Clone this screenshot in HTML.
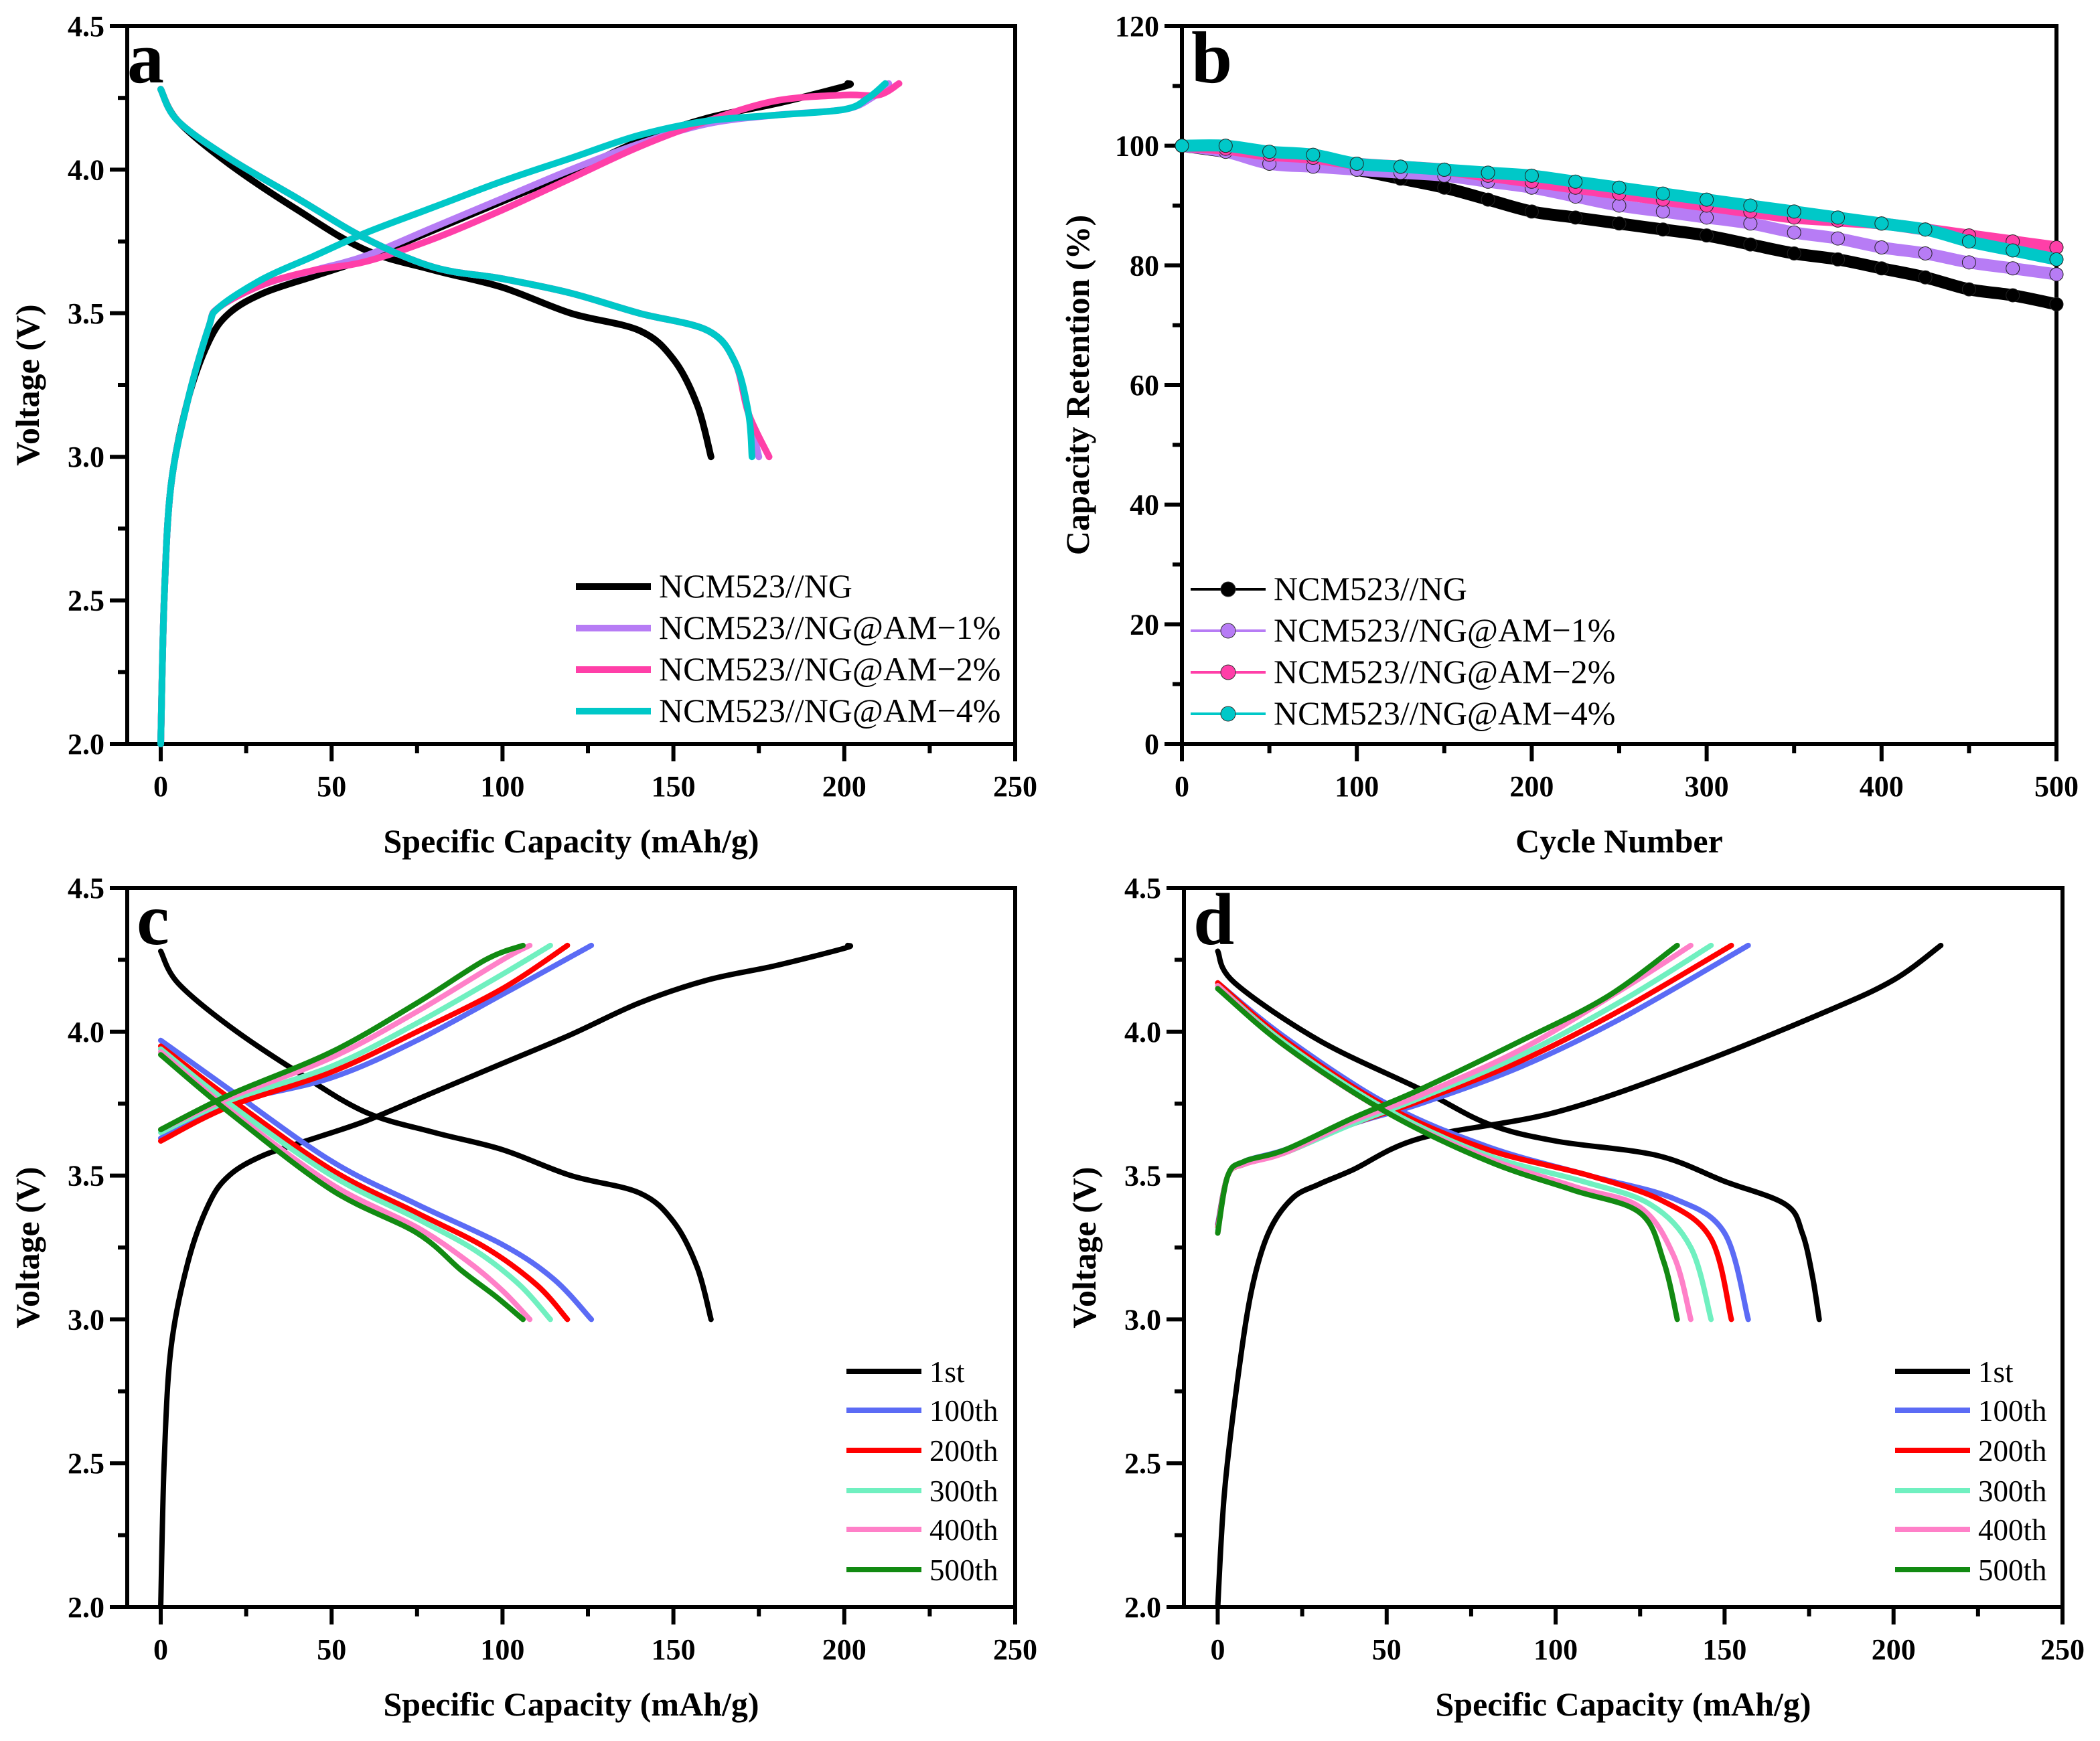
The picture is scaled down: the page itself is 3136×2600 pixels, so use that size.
<!DOCTYPE html>
<html><head><meta charset="utf-8"><style>
html,body{margin:0;padding:0;background:#fff;}
svg{display:block;font-family:"Liberation Serif",serif;}
</style></head><body>
<svg id="fig" width="3136" height="2600" viewBox="0 0 3136 2600" xmlns="http://www.w3.org/2000/svg"></svg>
<script>
// ---------- Panel a data ----------
const aBlkChgX=[0,1,3,8,14,20,30,45,60,80,100,120,140,160,180,200,201];
const aBlkChgY=[2.0,2.5,2.9,3.2,3.4,3.5,3.57,3.63,3.69,3.79,3.89,3.99,4.1,4.18,4.23,4.29,4.3];
const aBlkDisX=[0,5,20,40,60,80,100,120,140,150,157,161];
const aBlkDisY=[4.28,4.17,4.02,3.86,3.72,3.65,3.59,3.5,3.44,3.34,3.18,3.0];
const aPurChgX=[0,1,3,8,14,17,30,45,60,80,100,120,140,160,180,200,208,213];
const aPurChgY=[2.0,2.5,2.9,3.2,3.45,3.52,3.6,3.65,3.7,3.8,3.9,4.0,4.09,4.16,4.19,4.21,4.25,4.3];
const aPinChgX=[0,1,3,8,14,17,30,45,60,80,100,120,140,160,180,200,210,216];
const aPinChgY=[2.0,2.5,2.9,3.2,3.45,3.52,3.6,3.65,3.68,3.76,3.86,3.97,4.08,4.17,4.24,4.26,4.26,4.3];
const aCyaChgX=[0,1,3,8,14,17,30,45,60,80,100,120,140,160,180,200,207,212];
const aCyaChgY=[2.0,2.5,2.9,3.2,3.45,3.52,3.62,3.7,3.78,3.87,3.96,4.04,4.12,4.17,4.19,4.21,4.25,4.3];
const aOthDisX=[0,5,20,40,60,80,100,120,140,160,168,172];
const aPurDisEnd=175, aPinDisEnd=178, aCyaDisEnd=173;
const aOthDisY=[4.28,4.17,4.04,3.9,3.76,3.66,3.62,3.57,3.5,3.44,3.33,3.15];
// ---------- Panel b data ----------
const bCycles=[0,25,50,75,100,125,150,175,200,225,250,275,300,325,350,375,400,425,450,475,500];
const bBlack=[100,99,98,97.5,96,94.5,93,91,89,88,87,86,85,83.5,82,81,79.5,78,76,75,73.5];
const bPurple=[100,99,97,96.5,96,95.5,95,94,93,91.5,90,89,88,87,85.5,84.5,83,82,80.5,79.5,78.5];
const bPink=[100,99.5,98.5,98,97,96.5,96,95,94,93,92,91,90,89,88,87.5,87,86,85,84,83];
const bCyan=[100,100,99,98.5,97,96.5,96,95.5,95,94,93,92,91,90,89,88,87,86,84,82.5,81];
// ---------- Panel c data ----------
const c1ChgX=aBlkChgX, c1ChgY=aBlkChgY, c1DisX=aBlkDisX, c1DisY=aBlkDisY;
const cChgX=[[0,20,50,75,100,126],[0,20,50,75,100,119],[0,20,50,75,100,114],[0,20,50,75,100,108],[0,20,50,75,95,106]];
const cChgY=[[3.63,3.75,3.84,3.97,4.13,4.3],[3.62,3.74,3.86,4.0,4.15,4.3],[3.65,3.76,3.88,4.03,4.2,4.3],[3.66,3.77,3.91,4.07,4.25,4.3],[3.66,3.78,3.93,4.1,4.25,4.3]];
const cDisX=[[0,20,50,75,100,115,126],[0,20,50,75,95,110,119],[0,20,50,75,92,105,114],[0,20,50,75,90,100,108],[0,20,50,75,88,98,106]];
const cDisY=[[3.97,3.8,3.55,3.4,3.26,3.14,3.0],[3.95,3.77,3.52,3.37,3.25,3.12,3.0],[3.94,3.75,3.5,3.35,3.24,3.12,3.0],[3.93,3.73,3.47,3.32,3.2,3.1,3.0],[3.92,3.72,3.45,3.3,3.17,3.08,3.0]];
// ---------- Panel d data ----------
const d1ChgX=[0,2,6,10,15,22,30,40,60,100,140,180,200,214];
const d1ChgY=[2.0,2.4,2.8,3.1,3.3,3.42,3.47,3.52,3.63,3.72,3.88,4.07,4.18,4.3];
const d1DisX=[0,5,30,60,80,100,130,150,168,173,176,178];
const d1DisY=[4.28,4.17,3.97,3.8,3.68,3.62,3.57,3.48,3.4,3.3,3.15,3.0];
const dChgX=[[0,3,8,20,40,60,90,120,157],[0,3,8,20,40,60,90,120,152],[0,3,8,20,40,60,90,120,146],[0,3,8,20,40,60,90,120,140],[0,3,8,20,40,60,90,115,136]];
const dChgY=[[3.33,3.5,3.55,3.59,3.68,3.75,3.88,4.05,4.3],[3.32,3.5,3.54,3.58,3.68,3.76,3.9,4.08,4.3],[3.31,3.5,3.54,3.58,3.68,3.77,3.92,4.11,4.3],[3.3,3.5,3.54,3.58,3.69,3.78,3.94,4.15,4.3],[3.3,3.5,3.55,3.59,3.7,3.8,3.97,4.12,4.3]];
const dDisX=[[0,20,50,80,110,135,150,157],[0,20,50,80,110,132,146,152],[0,20,50,80,108,128,140,146],[0,20,50,80,106,125,135,140],[0,20,50,80,105,125,132,136]];
const dDisY=[[4.17,3.98,3.75,3.6,3.5,3.42,3.3,3.0],[4.17,3.97,3.74,3.59,3.5,3.41,3.28,3.0],[4.16,3.96,3.73,3.57,3.48,3.4,3.25,3.0],[4.16,3.95,3.72,3.56,3.46,3.39,3.22,3.0],[4.15,3.95,3.72,3.55,3.45,3.37,3.2,3.0]];
const cycleLabels=["1st","100th","200th","300th","400th","500th"];
const cycleColors=["#000000","#5b6bf5","#ff0000","#70f0c0","#ff80c8","#128a12"];
const aLabels=["NCM523//NG","NCM523//NG@AM\u22121%","NCM523//NG@AM\u22122%","NCM523//NG@AM\u22124%"];
const aColors=["#000000","#b77cf5","#ff3fa8","#00c8c8"];

const NS="http://www.w3.org/2000/svg";
const svg=document.getElementById('fig');
function mk(tag,attrs,parent,text){const e=document.createElementNS(NS,tag);for(const k in attrs)e.setAttribute(k,attrs[k]);if(text!==undefined)e.textContent=text;(parent||svg).appendChild(e);return e;}

function makePanel(p){
  const g=mk('g',{});
  
  
  p.sx=v=>p.L+(v-p.xmin)/(p.xmax-p.xmin)*(p.R-p.L);
  p.sy=v=>p.B-(v-p.ymin)/(p.ymax-p.ymin)*(p.B-p.T);
  p.g=g;
  return p;
}
function drawAxes(p){
  const g=p.g;
  for(let v=p.xt0;v<=p.xmax+1e-9;v+=p.xminor){
    const major=Math.abs(((v-p.xt0)/p.xstep)-Math.round((v-p.xt0)/p.xstep))<1e-6;
    const x=p.sx(v);
    const t=mk('line',{x1:x,x2:x,y1:p.B,y2:p.B+(major?26:14),stroke:'#000','stroke-width':6},g);
    
    
    if(major){
      const l=mk('text',{x:x,y:p.B+78,'font-size':44,'font-weight':'bold','text-anchor':'middle'},g,String(Math.round(v)));
      
      
    }
  }
  for(let v=p.ymin;v<=p.ymax+1e-9;v+=p.yminor){
    const major=Math.abs(((v-p.ymin)/p.ystep)-Math.round((v-p.ymin)/p.ystep))<1e-6;
    const y=p.sy(v);
    const t=mk('line',{x1:p.L,x2:p.L-(major?26:14),y1:y,y2:y,stroke:'#000','stroke-width':6},g);
    
    
    if(major){
      const l=mk('text',{x:p.L-34,y:y+15,'font-size':44,'font-weight':'bold','text-anchor':'end'},g,p.yfmt(v));
      
      
    }
  }
  const fr=mk('rect',{x:p.L,y:p.T,width:p.R-p.L,height:p.B-p.T,fill:'none',stroke:'#000','stroke-width':6},g);
  
  
  const xt=mk('text',{x:(p.L+p.R)/2,y:p.B+162,'font-size':50,'font-weight':'bold','text-anchor':'middle'},g,p.xtitle);
  
  
  const yt=mk('text',{x:0,y:0,'font-size':50,'font-weight':'bold','text-anchor':'middle',transform:`translate(${p.ytx},${(p.T+p.B)/2}) rotate(-90)`},g,p.ytitle);
  
  
  const pl=mk('text',{x:p.L+p.lx,y:p.T+p.ly,'font-size':110,'font-weight':'bold'},g,p.id);
  
  
}
function smoothPath(P){
  let d='M'+P[0][0].toFixed(1)+','+P[0][1].toFixed(1);
  for(let i=0;i<P.length-1;i++){
    const p0=P[Math.max(0,i-1)],p1=P[i],p2=P[i+1],p3=P[Math.min(P.length-1,i+2)];
    const k=1/6;
    const c1=[p1[0]+(p2[0]-p0[0])*k,p1[1]+(p2[1]-p0[1])*k];
    const c2=[p2[0]-(p3[0]-p1[0])*k,p2[1]-(p3[1]-p1[1])*k];
    d+=' C'+c1[0].toFixed(1)+','+c1[1].toFixed(1)+' '+c2[0].toFixed(1)+','+c2[1].toFixed(1)+' '+p2[0].toFixed(1)+','+p2[1].toFixed(1);
  }
  return d;
}
function curve(p,xs,ys,color,w,name){
  const P=xs.map((x,i)=>[p.sx(x),p.sy(ys[i])]);
  const e=mk('path',{d:smoothPath(P),fill:'none',stroke:color,'stroke-width':w,'stroke-linejoin':'round','stroke-linecap':'round'},p.g);
  
  
}
function legend(p,x,ys,labels,colors,marker,w,fs){
  labels.forEach((lab,i)=>{
    const lg=mk('g',{},p.g);
    
    
    mk('line',{x1:x,x2:x+112,y1:ys[i],y2:ys[i],stroke:colors[i],'stroke-width':w},lg);
    if(marker){mk('circle',{cx:x+56,cy:ys[i],r:11,fill:colors[i],stroke:'#333','stroke-width':1},lg);}
    mk('text',{x:x+124,y:ys[i]+16,'font-size':fs},lg,lab);
  });
}
const vfmt=v=>v.toFixed(1);
// Panel a
const pa=makePanel({id:'a',L:190,R:1516,T:39,B:1111,xmin:-9.8,xmax:250,ymin:2,ymax:4.5,xt0:0,xstep:50,xminor:25,ystep:0.5,yminor:0.25,yfmt:vfmt,xtitle:'Specific Capacity (mAh/g)',ytitle:'Voltage (V)',ytx:58,lx:0,ly:84});
drawAxes(pa);
curve(pa,aBlkChgX,aBlkChgY,aColors[0],10,'ng-charge');
curve(pa,aBlkDisX,aBlkDisY,aColors[0],10,'ng-discharge');
curve(pa,aPurChgX,aPurChgY,aColors[1],10,'am1-charge');
curve(pa,aPinChgX,aPinChgY,aColors[2],10,'am2-charge');
curve(pa,aCyaChgX,aCyaChgY,aColors[3],10,'am4-charge');
curve(pa,aOthDisX.concat([aPurDisEnd]),aOthDisY.concat([3.0]),aColors[1],10,'am1-discharge');
curve(pa,aOthDisX.concat([aPinDisEnd]),aOthDisY.concat([3.0]),aColors[2],10,'am2-discharge');
curve(pa,aOthDisX.concat([aCyaDisEnd]),aOthDisY.concat([3.0]),aColors[3],10,'am4-discharge');
legend(pa,860,[876,938,1000,1062],aLabels,aColors,false,10,50);
// Panel b
const pb=makePanel({id:'b',L:1765,R:3071,T:39,B:1111,xmin:0,xmax:500,ymin:0,ymax:120,xt0:0,xstep:100,xminor:50,ystep:20,yminor:10,yfmt:v=>String(Math.round(v)),xtitle:'Cycle Number',ytitle:'Capacity Retention (%)',ytx:1626,lx:14,ly:84});
drawAxes(pb);
[bBlack,bPurple,bPink,bCyan].forEach((s,k)=>{
  curve(pb,bCycles,s,aColors[k],18,'retention-series-'+k);
  bCycles.forEach((c,i)=>{
    const m=mk('circle',{cx:pb.sx(c),cy:pb.sy(s[i]),r:10,fill:aColors[k],stroke:'#222','stroke-width':1},pb.g);
    
    
  });
});
legend(pb,1778,[880,942,1004,1066],aLabels,aColors,true,4,50);
// Panel c
const pc=makePanel({id:'c',L:190,R:1516,T:1326,B:2400,xmin:-9.8,xmax:250,ymin:2,ymax:4.5,xt0:0,xstep:50,xminor:25,ystep:0.5,yminor:0.25,yfmt:vfmt,xtitle:'Specific Capacity (mAh/g)',ytitle:'Voltage (V)',ytx:58,lx:14,ly:84});
drawAxes(pc);
curve(pc,c1ChgX,c1ChgY,cycleColors[0],8,'cycle1-charge');
curve(pc,c1DisX,c1DisY,cycleColors[0],8,'cycle1-discharge');
for(let k=0;k<5;k++){
  curve(pc,cChgX[k],cChgY[k],cycleColors[k+1],8,'cycle-charge');
  curve(pc,cDisX[k],cDisY[k],cycleColors[k+1],8,'cycle-discharge');
}
legend(pc,1264,[2048,2106,2166,2226,2284,2344],cycleLabels,cycleColors,false,8,45);
// Panel d
const pd=makePanel({id:'d',L:1768,R:3080,T:1326,B:2400,xmin:-10,xmax:250,ymin:2,ymax:4.5,xt0:0,xstep:50,xminor:25,ystep:0.5,yminor:0.25,yfmt:vfmt,xtitle:'Specific Capacity (mAh/g)',ytitle:'Voltage (V)',ytx:1636,lx:14,ly:84});
drawAxes(pd);
curve(pd,d1ChgX,d1ChgY,cycleColors[0],8,'cycle1-charge');
curve(pd,d1DisX,d1DisY,cycleColors[0],8,'cycle1-discharge');
for(let k=0;k<5;k++){
  curve(pd,dChgX[k],dChgY[k],cycleColors[k+1],8,'cycle-charge');
  curve(pd,dDisX[k],dDisY[k],cycleColors[k+1],8,'cycle-discharge');
}
legend(pd,2830,[2048,2106,2166,2226,2284,2344],cycleLabels,cycleColors,false,8,45);
</script>
</body></html>
